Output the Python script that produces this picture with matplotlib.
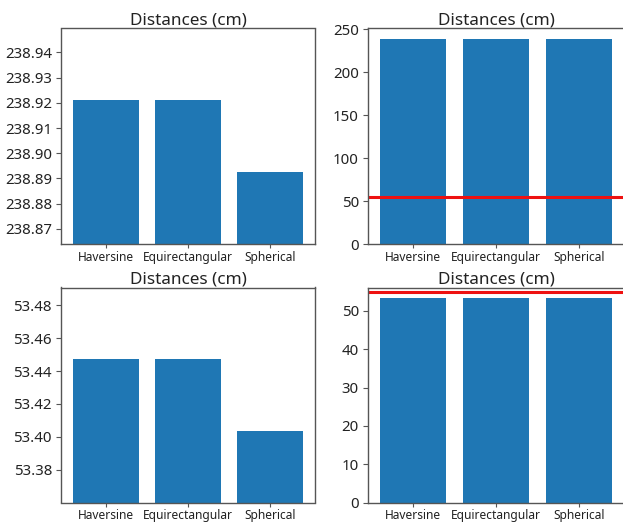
import matplotlib
matplotlib.use("Agg")
import matplotlib.pyplot as plt
from matplotlib.ticker import FormatStrFormatter, MultipleLocator

plt.rcParams['font.family'] = ['Noto Sans', 'DejaVu Sans']

methods = ["Haversine", "Equirectangular", "Spherical"]
dist_long_cm = [238.921, 238.921, 238.8925]
dist_short_cm = [53.4472, 53.4472, 53.4037]
threshold_cm = 55

W, H = 623, 522
fig = plt.figure(figsize=(W / 100, H / 100), dpi=100)


def px_axes(left, top, right, bottom):
    return fig.add_axes([left / W, 1 - bottom / H, (right - left) / W, (bottom - top) / H])


def style(ax):
    for s in ax.spines.values():
        s.set_color('#555555')
        s.set_linewidth(1.0)
    ax.tick_params(axis='y', labelsize=10.8, colors='#222222', length=3.5, color='#555555', pad=3)
    ax.tick_params(axis='x', labelsize=8.6, colors='#222222', length=3, color='#555555', pad=2)
    ax.set_title("Distances (cm)", fontsize=12.3, color='#222222', pad=3)


def zoomed(ax, values, step):
    ax.bar(methods, values, color='#1f77b4')
    spread = max(values) - min(values)
    ax.set_ylim(min(values) - spread, max(values) + spread)
    ax.yaxis.set_major_locator(MultipleLocator(step))
    ax.yaxis.set_major_formatter(FormatStrFormatter('%.2f'))
    style(ax)


def full(ax, values):
    ax.bar(methods, values, color='#1f77b4')
    ax.set_ylim(0, max(values) * 1.05)
    ax.axhline(threshold_cm, color='#ee1111', linewidth=2.2)
    style(ax)


ax1 = px_axes(61, 28.5, 315, 244)
zoomed(ax1, dist_long_cm, 0.01)

ax2 = px_axes(368, 28.5, 624, 244)
full(ax2, dist_long_cm)

ax3 = px_axes(61, 287.5, 315, 502.5)
zoomed(ax3, dist_short_cm, 0.02)

ax4 = px_axes(368, 287.5, 624, 502.5)
full(ax4, dist_short_cm)

fig.savefig("out.png", dpi=100)
